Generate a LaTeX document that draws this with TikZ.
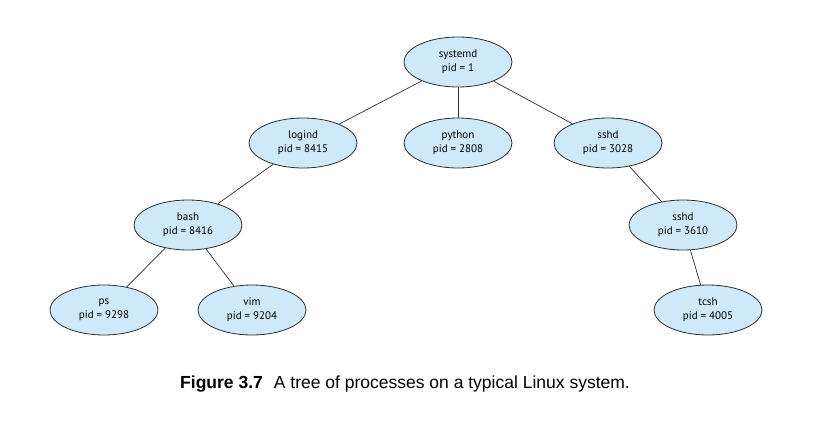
\documentclass[tikz,border=0pt]{standalone}
\usepackage{fontspec}
\setmainfont{PT Sans}
\newfontfamily\capfont{Liberation Sans}
\usetikzlibrary{shapes.geometric}
\definecolor{procfill}{RGB}{206,233,249}
\definecolor{procline}{RGB}{45,45,45}
\tikzset{
  proc/.style={ellipse, draw=procline, line width=0.8pt, fill=procfill,
    minimum width=108pt, minimum height=50pt, inner sep=0pt,
    align=center, font=\fontsize{11}{14}\selectfont},
  edge/.style={draw=procline, line width=0.7pt}
}
\begin{document}
\begin{tikzpicture}[x=1pt,y=-1pt]
\useasboundingbox (0,0) rectangle (830,431);
\node[proc] (systemd) at (458,62) {systemd\\pid = 1};
\node[proc] (logind) at (303,143) {logind\\pid = 8415};
\node[proc] (python) at (458,143) {python\\pid = 2808};
\node[proc] (sshd) at (608,143) {sshd\\pid = 3028};
\node[proc] (bash) at (188,225) {bash\\pid = 8416};
\node[proc] (sshdb) at (683,225) {sshd\\pid = 3610};
\node[proc] (ps) at (104,310) {ps\\pid = 9298};
\node[proc] (vim) at (252,310) {vim\\pid = 9204};
\node[proc] (tcsh) at (708,310) {tcsh\\pid = 4005};
\draw[edge] (systemd) -- (logind);
\draw[edge] (systemd) -- (python);
\draw[edge] (systemd) -- (sshd);
\draw[edge] (logind) -- (bash);
\draw[edge] (bash) -- (ps);
\draw[edge] (bash) -- (vim);
\draw[edge] (sshd) -- (sshdb);
\draw[edge] (sshdb) -- (tcsh);
\node[anchor=base west, font=\capfont\fontsize{17.5}{21}\selectfont, inner sep=0pt] (cap) at (180,388)
  {\textbf{Figure 3.7}\hspace{11pt}A tree of processes on a typical Linux system.};
\end{tikzpicture}
\end{document}
